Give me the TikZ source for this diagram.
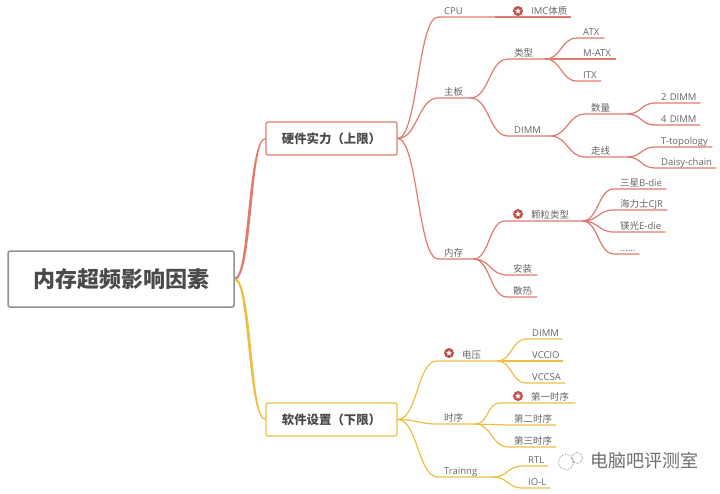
\documentclass[tikz,border=0pt]{standalone}
\usepackage{fontspec}
\setmainfont{Open Sans}
\newfontfamily\cjk{Noto Sans CJK SC}
\usetikzlibrary{shapes.geometric}
\definecolor{hwline}{HTML}{DF7A6E}
\definecolor{swline}{HTML}{EBBE45}
\definecolor{rootline}{HTML}{8E9195}
\definecolor{inktext}{HTML}{4A4A4A}
\definecolor{starred}{HTML}{C2504C}
\tikzset{
  x=1pt,y=-1pt,
  rootbox/.style={draw=rootline,line width=1.5pt,rounded corners=2pt,fill=white,inner sep=0pt,
    minimum width=226pt,minimum height=56pt,text=inktext,font=\cjk\bfseries\fontsize{22}{24}\selectfont},
  mainbox/.style={line width=1.2pt,rounded corners=2pt,fill=white,inner sep=0pt,
    minimum width=131pt,minimum height=33pt,text=inktext,font=\cjk\bfseries\fontsize{12.4}{15}\selectfont},
  topic/.style={anchor=south west,text width=#1,align=left,inner xsep=6pt,inner ysep=0.5pt,
    text height=8pt,text depth=2pt,text=inktext!85,font=\fontsize{9.5}{10}\selectfont},
  link/.style={to path={.. controls +(#1,0) and +(-#1,0) .. (\tikztotarget)}},
  hwlink/.style={draw=hwline,line width=1.2pt},
  swlink/.style={draw=swline,line width=1.2pt},
  staricon/.style={circle,fill=starred,inner sep=0pt,minimum size=10pt},
  starinner/.style={star,star points=5,star point ratio=2.2,fill=white,inner sep=0pt,minimum size=6pt},
  bubble/.style={circle,draw=inktext!70,densely dotted,line width=0.7pt,inner sep=0pt},
}
\begin{document}
\begin{tikzpicture}
  \useasboundingbox (0,0) rectangle (720,493);
  % centre and the two main boxes
  \node[rootbox] (root) at (121,279) {内存超频影响因素};
  \node[mainbox,draw=hwline] (hw) at (331.5,138.5) {硬件实力（上限）};
  \node[mainbox,draw=swline] (sw) at (331.5,419.5) {软件设置（下限）};
  \fill[hwline] ([yshift=1.5pt]root.east) .. controls +(14,0) and +(-18,0) .. ([yshift=0.6pt]hw.west)
    -- ([yshift=-0.6pt]hw.west) .. controls +(-15,0) and +(18,0) .. ([yshift=-1pt]root.east) -- cycle;
  \fill[swline] ([yshift=1pt]root.east) .. controls +(18,0) and +(-15,0) .. ([yshift=0.6pt]sw.west)
    -- ([yshift=-0.6pt]sw.west) .. controls +(-18,0) and +(14,0) .. ([yshift=-1.5pt]root.east) -- cycle;
  % hardware side
  \node[topic=45pt] (cpu) at (438,17) {CPU};
  \node[topic=54pt] (imc) at (505,17) {\hspace*{20pt}IMC{\cjk 体质}};
  \node[topic=20pt] (board) at (438,98) {\cjk 主板};
  \node[topic=25pt] (kind) at (508,59) {\cjk 类型};
  \node[topic=15pt] (atx) at (577,38) {ATX};
  \node[topic=27pt] (matx) at (577,59) {\mbox{M-ATX}};
  \node[topic=12pt] (itx) at (577,81) {ITX};
  \node[topic=30pt] (dimm) at (508,136) {DIMM};
  \node[topic=30pt] (count) at (585,114) {\cjk 数量};
  \node[topic=30pt] (trace) at (585,157) {\cjk 走线};
  \node[topic=33pt] (dimmtwo) at (655,103) {\mbox{2 DIMM}};
  \node[topic=33pt] (dimmfour) at (655,125) {\mbox{4 DIMM}};
  \node[topic=45pt] (ttopo) at (655,147) {\mbox{T-topology}};
  \node[topic=49pt] (daisy) at (655,168) {\mbox{Daisy-chain}};
  \node[topic=23pt] (mem) at (438,259) {\cjk 内存};
  \node[topic=65pt] (grain) at (505,221) {\hspace*{20pt}{\cjk 颗粒类型}};
  \node[topic=40pt] (bdie) at (614,189) {\mbox{{\cjk 三星}B-die}};
  \node[topic=41pt] (cjr) at (614,210) {\mbox{{\cjk 海力士}CJR}};
  \node[topic=39pt] (edie) at (614,232) {\mbox{{\cjk 镁光}E-die}};
  \node[topic=13pt] (more) at (614,254) {......};
  \node[topic=18pt] (mount) at (507,275) {\cjk 安装};
  \node[topic=18pt] (cool) at (507,297) {\cjk 散热};
  % software side
  \node[topic=48pt] (volt) at (437,361) {\hspace*{19pt}{\cjk 电压}};
  \node[topic=24pt] (vdimm) at (526,339) {DIMM};
  \node[topic=25pt] (vccio) at (526,361) {VCCIO};
  \node[topic=27pt] (vccsa) at (526,383) {VCCSA};
  \node[topic=25pt] (timing) at (438,424) {\cjk 时序};
  \node[topic=63pt] (first) at (500,403) {\hspace*{25pt}{\cjk 第一时序}};
  \node[topic=36pt] (second) at (508,425) {\cjk 第二时序};
  \node[topic=36pt] (third) at (508,447) {\cjk 第三时序};
  \node[topic=43pt] (train) at (438,477) {Trainng};
  \node[topic=14pt] (rtl) at (522,466) {RTL};
  \node[topic=16pt] (iol) at (522,488) {\mbox{IO-L}};
  % connectors
  \foreach \target in {cpu,board,mem}
    \draw[hwlink] (hw.east) to[link=20] (\target.south west) -- (\target.south east);
  \foreach \target in {volt,timing,train}
    \draw[swlink] (sw.east) to[link=20] (\target.south west) -- (\target.south east);
  \foreach \source/\target/\bend in {cpu/imc/5,board/kind/19,board/dimm/19,kind/atx/16,kind/matx/16,kind/itx/16,
      dimm/count/17,dimm/trace/17,count/dimmtwo/14,count/dimmfour/14,trace/ttopo/14,trace/daisy/14,
      mem/grain/16,mem/mount/17,mem/cool/17,grain/bdie/16,grain/cjr/16,grain/edie/16,grain/more/16}
    \draw[hwlink] (\source.south east) to[link=\bend] (\target.south west) -- (\target.south east);
  \foreach \source/\target/\bend in {volt/vdimm/14,volt/vccio/14,volt/vccsa/14,timing/first/13,timing/second/16,
      timing/third/16,train/rtl/14,train/iol/14}
    \draw[swlink] (\source.south east) to[link=\bend] (\target.south west) -- (\target.south east);
  % star marks
  \foreach \px/\py in {518/11,518/214,449/353,518/396} {
    \node[staricon] (mark\px\py) at (\px,\py) {};
    \node[starinner] (inner\px\py) at (mark\px\py) {};
  }
  % watermark
  \node[bubble,minimum size=15pt] (bubbleleft) at (566,462) {};
  \node[bubble,minimum size=11pt] (bubbleright) at (577,458) {};
  \node[text=inktext!80,font=\cjk\fontsize{18}{20}\selectfont,inner sep=0pt,anchor=west] (mark) at (590,461) {电脑吧评测室};
\end{tikzpicture}
\end{document}
